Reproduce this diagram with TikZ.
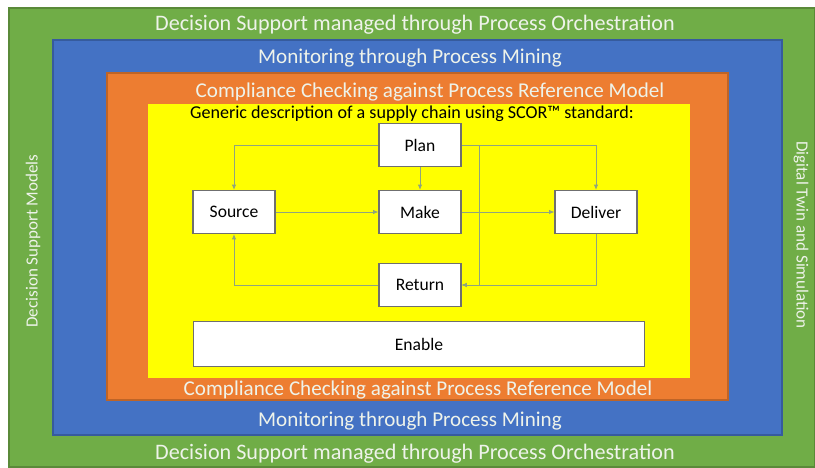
\documentclass[tikz,border=0pt]{standalone}
\usepackage{fontspec}
\setmainfont{Carlito}
\usetikzlibrary{arrows.meta}
\definecolor{bandgreen}{HTML}{70AD47}
\definecolor{bandblue}{HTML}{4472C4}
\definecolor{bandorange}{HTML}{ED7D31}
\definecolor{bandyellow}{HTML}{FFFF00}
\definecolor{linegray}{HTML}{8FA47E}
\definecolor{boxgray}{HTML}{6F6F6F}
\definecolor{bandtext}{HTML}{EEF3EA}
\begin{document}
\begin{tikzpicture}[x=0.02cm, y=-0.02cm,
    band/.style = {draw=#1!80!black, fill=#1, line width=0.6pt},
    bandlabel/.style = {text=bandtext, font=\fontsize{12}{14}\selectfont},
    sidelabel/.style = {text=bandtext, font=\fontsize{9.7}{12}\selectfont},
    step box/.style = {draw=boxgray, fill=white, line width=0.6pt, minimum width=1.64cm, minimum height=0.86cm, font=\fontsize{10}{12}\selectfont},
    flow/.style = {draw=linegray, line width=0.5pt, -{Latex[length=3pt,width=2.5pt]}}]

    \useasboundingbox (0,0) rectangle (815,467);
    \fill[white] (0,0) rectangle (815,467);

    \draw[band=bandgreen] (9,8) rectangle (815,467);
    \draw[band=bandblue] (53,40) rectangle (782,435);
    \draw[band=bandorange] (107,73) rectangle (728,400);
    \fill[bandyellow] (148,104) rectangle (690,378);

    \node[bandlabel, font=\fontsize{12.6}{14}\selectfont] (dsTop) at (415,25) {Decision Support managed through Process Orchestration};
    \node[bandlabel, font=\fontsize{12.6}{14}\selectfont] (dsBot) at (415,454) {Decision Support managed through Process Orchestration};
    \node[bandlabel] (pmTop) at (410,58) {Monitoring through Process Mining};
    \node[bandlabel] (pmBot) at (410,421) {Monitoring through Process Mining};
    \node[bandlabel] (ccTop) at (430,92) {Compliance Checking against Process Reference Model};
    \node[bandlabel] (ccBot) at (418,390) {Compliance Checking against Process Reference Model};
    \node[sidelabel, rotate=90] (dsm) at (33,241) {Decision Support Models};
    \node[sidelabel, rotate=-90] (dts) at (801,235) {Digital Twin and Simulation};
    \node[font=\fontsize{10.3}{12}\selectfont] (scor) at (412,114) {Generic description of a supply chain using SCOR™ standard:};

    \node[step box] (plan) at (420,145) {Plan};
    \node[step box] (source) at (234,212) {Source};
    \node[step box] (make) at (420,212) {Make};
    \node[step box] (deliver) at (596,212) {Deliver};
    \node[step box] (return) at (420,285) {Return};
    \node[step box, minimum width=9.04cm, minimum height=0.9cm] (enable) at (419,344) {Enable};

    \coordinate (split) at (479,145);

    \draw[flow] (plan.west) -| (source.north);
    \draw[flow] (plan.south) -- (make.north);
    \draw[flow] (plan.east) -| (deliver.north);
    \draw[flow] (source.east) -- (make.west);
    \draw[flow] (make.east) -- (deliver.west);
    \draw[flow] (split) |- (return.east);
    \draw[flow] (deliver.south) |- (return.east);
    \draw[flow] (return.west) -| (source.south);
\end{tikzpicture}
\end{document}
